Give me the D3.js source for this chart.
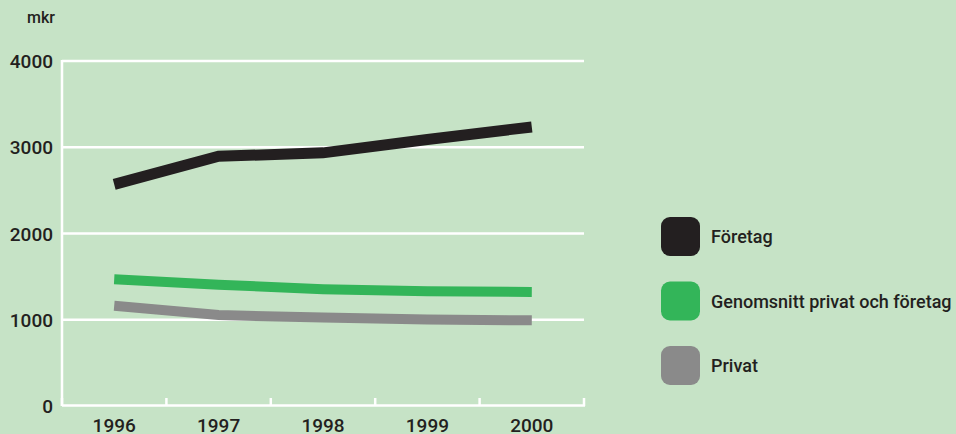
<!DOCTYPE html>
<html>
<head>
<meta charset="utf-8">
<script src="https://cdn.jsdelivr.net/npm/d3@7"></script>
<style>
  body { margin: 0; background: #c6e3c6; }
  svg { display: block; }
  text { font-family: Roboto, "Open Sans", sans-serif; font-weight: 500; fill: #231f20; }
</style>
</head>
<body>
<script>
var years = ['1996', '1997', '1998', '1999', '2000'];
var yTicks = [0, 1000, 2000, 3000, 4000];
var foretag = [2570, 2895, 2935, 3090, 3235];
var genomsnitt = [1470, 1405, 1355, 1330, 1322];
var privat = [1162, 1055, 1025, 1003, 993];
var seriesNames = ['Företag', 'Genomsnitt privat och företag', 'Privat'];
var seriesColors = ['#231f20', '#33b559', '#8a8a8a'];

var width = 956, height = 434;
var plotLeft = 62, plotRight = 584, plotTop = 61, plotBottom = 406;

var svg = d3.select('body')
    .append('svg')
    .attr('width', width)
    .attr('height', height);

var x = d3.scaleBand()
    .domain(years)
    .range([plotLeft, plotRight])
    .padding(0);

var y = d3.scaleLinear()
    .domain([0, 4000])
    .range([plotBottom, plotTop]);

// grid lines
svg.append('g')
  .selectAll('line')
  .data(yTicks.filter(function(d) { return d > 0; }))
  .enter().append('line')
  .attr('x1', plotLeft)
  .attr('x2', plotRight)
  .attr('y1', function(d) { return y(d); })
  .attr('y2', function(d) { return y(d); })
  .attr('stroke', '#fff')
  .attr('stroke-width', 2.5);

// left axis line
svg.append('line')
  .attr('x1', plotLeft).attr('x2', plotLeft)
  .attr('y1', y(4000) - 1).attr('y2', y(0))
  .attr('stroke', '#fff')
  .attr('stroke-width', 2.5);

// bottom axis with ticks at band edges
var edges = years.map(function(d) { return x(d); }).concat([x(years[years.length - 1]) + x.bandwidth()]);
svg.append('line')
  .attr('x1', plotLeft).attr('x2', plotRight + 1)
  .attr('y1', y(0) - 0.5).attr('y2', y(0) - 0.5)
  .attr('stroke', '#fff')
  .attr('stroke-width', 2.5);
svg.append('g')
  .selectAll('line')
  .data(edges)
  .enter().append('line')
  .attr('x1', function(d) { return d; })
  .attr('x2', function(d) { return d; })
  .attr('y1', y(0))
  .attr('y2', y(0) - 8)
  .attr('stroke', '#fff')
  .attr('stroke-width', 2.5);

// y tick labels
svg.append('g')
  .selectAll('text')
  .data(yTicks)
  .enter().append('text')
  .attr('x', 53)
  .attr('y', function(d) { return y(d) + 7; })
  .style('text-anchor', 'end')
  .style('font-size', '19px')
  .text(function(d) { return d; });

svg.append('text')
  .attr('x', 27)
  .attr('y', 23)
  .style('font-size', '16px')
  .text('mkr');

// x labels
svg.append('g')
  .selectAll('text')
  .data(years)
  .enter().append('text')
  .attr('x', function(d) { return x(d) + x.bandwidth() / 2; })
  .attr('y', 432)
  .style('text-anchor', 'middle')
  .style('font-size', '19px')
  .text(function(d) { return d; });

// lines
var line = d3.line()
  .x(function(d, i) { return x(years[i]) + x.bandwidth() / 2; })
  .y(function(d) { return y(d); });

var allSeries = [privat, genomsnitt, foretag];
var allColors = [seriesColors[2], seriesColors[1], seriesColors[0]];
svg.append('g')
  .selectAll('path')
  .data(allSeries)
  .enter().append('path')
  .attr('d', line)
  .attr('fill', 'none')
  .attr('stroke', function(d, i) { return allColors[i]; })
  .attr('stroke-width', function(d, i) { return i === 2 ? 11 : 10; })
  .attr('stroke-linejoin', 'miter')
  .attr('stroke-linecap', 'butt');

// legend
var legend = svg.append('g')
  .selectAll('g')
  .data(seriesNames)
  .enter().append('g')
  .attr('transform', function(d, i) { return 'translate(661,' + (217 + i * 64.5) + ')'; });

legend.append('rect')
  .attr('width', 39)
  .attr('height', 39)
  .attr('rx', 9)
  .attr('fill', function(d, i) { return seriesColors[i]; });

legend.append('text')
  .attr('x', 50)
  .attr('y', 26)
  .style('font-size', '18px')
  .text(function(d) { return d; });
</script>
</body>
</html>
